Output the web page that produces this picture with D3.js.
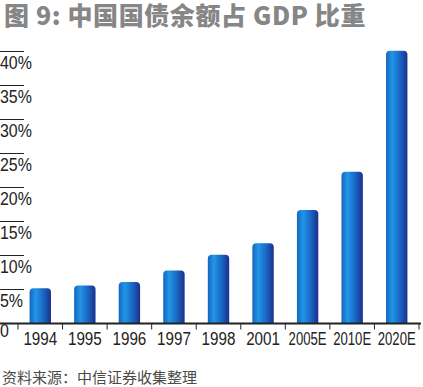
<!DOCTYPE html>
<html>
<head>
<meta charset="utf-8">
<script src="https://cdn.jsdelivr.net/npm/d3@7"></script>
<style>
  body { margin: 0; background: #fff; }
  svg { display: block; }
</style>
</head>
<body>
<div id="chart"></div>
<script>
// chart data
var years = ["1994", "1995", "1996", "1997", "1998", "2001", "2005E", "2010E", "2020E"];
var debtShare = [5.2, 5.6, 6.1, 7.8, 10.1, 11.8, 16.7, 22.3, 40.1];
var yTicks = [5, 10, 15, 20, 25, 30, 35, 40];
var titleText = "图 9: 中国国债余额占 GDP 比重";
var sourceText = "资料来源：中信证券收集整理";

var width = 423, height = 387;

var svg = d3.select("#chart")
  .append("svg")
  .attr("width", width)
  .attr("height", height);

// bar gradient (left light, right dark)
var grad = svg.append("defs")
  .append("linearGradient")
  .attr("id", "barGrad")
  .attr("x1", "0%").attr("y1", "0%")
  .attr("x2", "100%").attr("y2", "0%");
grad.append("stop").attr("offset", "0%").attr("stop-color", "#1565c0");
grad.append("stop").attr("offset", "28%").attr("stop-color", "#2196e6");
grad.append("stop").attr("offset", "65%").attr("stop-color", "#1a66c4");
grad.append("stop").attr("offset", "100%").attr("stop-color", "#1b2f8c");

var x = d3.scaleBand()
  .domain(years)
  .range([18, 419])
  .paddingInner(0.52)
  .paddingOuter(0.26);

var y = d3.scaleLinear()
  .domain([0, 40])
  .range([323.5, 51.5]);

// title
svg.append("text")
  .attr("x", 4)
  .attr("y", 25)
  .style("font-family", "'Noto Sans CJK SC', sans-serif")
  .style("font-weight", "900")
  .style("font-size", "25px")
  .style("letter-spacing", "0.6px")
  .style("fill", "#868686")
  .text(titleText);

// y ticks: short line with label underneath
var yg = svg.append("g");
yTicks.forEach(function(t) {
  yg.append("line")
    .attr("x1", 0).attr("x2", 24)
    .attr("y1", y(t)).attr("y2", y(t))
    .style("stroke", "#222")
    .style("stroke-width", 1);
  yg.append("text")
    .attr("transform", "translate(0," + (y(t) + 17) + ") scale(0.84,1)")
    .style("font-family", "'Liberation Sans', Arial, sans-serif")
    .style("font-size", "19px")
    .style("fill", "#222")
    .text(t + "%");
});
yg.append("text")
  .attr("transform", "translate(0,337) scale(0.84,1)")
  .style("font-family", "'Liberation Sans', Arial, sans-serif")
  .style("font-size", "19px")
  .style("fill", "#222")
  .text("0");

// bars
var bw = x.bandwidth();
svg.selectAll("path.bar")
  .data(debtShare)
  .enter()
  .append("path")
  .attr("class", "bar")
  .attr("d", function(d, i) {
    var x0 = x(years[i]), y0 = y(d), yb = y(0), r = 4;
    return "M" + x0 + "," + yb +
      "L" + x0 + "," + (y0 + r) +
      "Q" + x0 + "," + y0 + " " + (x0 + r) + "," + y0 +
      "L" + (x0 + bw - r) + "," + y0 +
      "Q" + (x0 + bw) + "," + y0 + " " + (x0 + bw) + "," + (y0 + r) +
      "L" + (x0 + bw) + "," + yb + "Z";
  })
  .style("fill", "url(#barGrad)");

// x axis line
svg.append("line")
  .attr("x1", 0).attr("x2", 421)
  .attr("y1", y(0)).attr("y2", y(0))
  .style("stroke", "#222")
  .style("stroke-width", 2);

// category ticks at band edges
var step = x.step();
var edges = years.map(function(c) { return x(c) - (step - bw) / 2; });
edges.push(419);
svg.selectAll("line.ctick")
  .data(edges)
  .enter()
  .append("line")
  .attr("class", "ctick")
  .attr("x1", function(d) { return d; })
  .attr("x2", function(d) { return d; })
  .attr("y1", y(0)).attr("y2", y(0) + 6)
  .style("stroke", "#222")
  .style("stroke-width", 1);

// category labels, squeezed to fit the band
svg.selectAll("text.cat")
  .data(years)
  .enter()
  .append("text")
  .attr("class", "cat")
  .style("font-family", "'Liberation Sans', Arial, sans-serif")
  .style("font-size", "19px")
  .style("fill", "#222")
  .style("text-anchor", "middle")
  .text(function(d) { return d; })
  .each(function(d) {
    var len = this.getComputedTextLength();
    var s = Math.min(0.8, 38 / len);
    var cx = x(d) + bw / 2;
    d3.select(this).attr("transform", "translate(" + cx + ",345) scale(" + s + ",1)");
  });

// source note
svg.append("text")
  .attr("x", 2)
  .attr("y", 383)
  .style("font-family", "'Noto Sans CJK SC', sans-serif")
  .style("font-size", "15px")
  .style("fill", "#4a4a4a")
  .text(sourceText);
</script>
</body>
</html>
